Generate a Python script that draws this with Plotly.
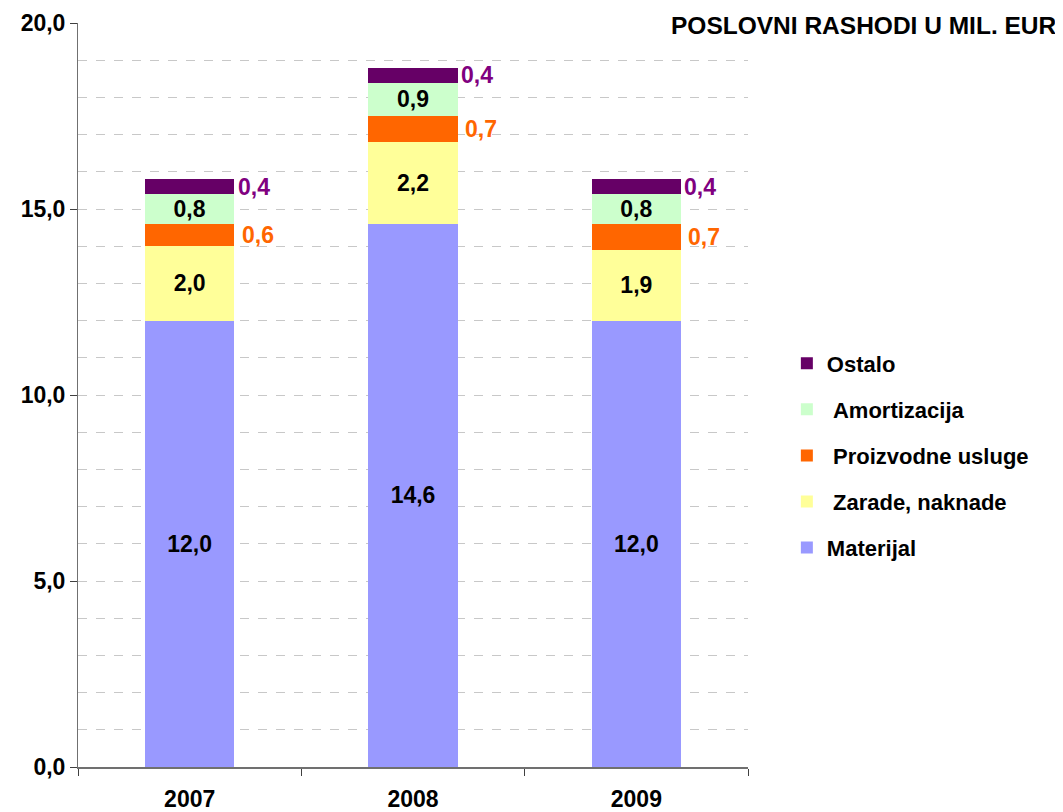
import plotly.graph_objects as go

years = ["2007", "2008", "2009"]
materijal = [12.0, 14.6, 12.0]
zarade = [2.0, 2.2, 1.9]
proizvodne = [0.6, 0.7, 0.7]
amortizacija = [0.8, 0.9, 0.8]
ostalo = [0.4, 0.4, 0.4]

series = [
    ("Materijal", materijal, "#9999FF", "inside"),
    ("\u00a0Zarade, naknade", zarade, "#FFFF99", "inside"),
    ("\u00a0Proizvodne usluge", proizvodne, "#FF6600", "none"),
    ("\u00a0Amortizacija", amortizacija, "#CCFFCC", "inside"),
    ("Ostalo", ostalo, "#660066", "none"),
]

FONT = "Liberation Sans, Arial, sans-serif"
LBL = 23
fig = go.Figure()
for i, (name, vals, color, tp) in enumerate(series):
    fig.add_trace(go.Bar(
        x=years, y=vals, name=name, marker=dict(color=color, line=dict(width=0)),
        texttemplate="<b>%{y:.1f}</b>" if tp == "inside" else None,
        textposition=tp, insidetextanchor="middle", constraintext="none",
        textfont=dict(family=FONT, size=LBL, color="black", weight="bold"),
        legendgroup=str(i), legendrank=len(series) - i, cliponaxis=False,
    ))

# outside labels to the right of bars
cum_z = [m + z for m, z in zip(materijal, zarade)]
cum_a = [m + z + p + a for m, z, p, a in zip(materijal, zarade, proizvodne, amortizacija)]
for vals, color, below, xs in [(proizvodne, "#FF6600", cum_z, 50), (ostalo, "#800080", cum_a, 46)]:
    for k, (v, b) in enumerate(zip(vals, below)):
        fig.add_annotation(x=k, y=b + v / 2, text=f"{v:.1f}".replace(".", ","),
                           showarrow=False, xanchor="left", yanchor="middle", xshift=xs,
                           font=dict(family=FONT, size=LBL, color=color, weight="bold"))

fig.add_annotation(xref="paper", yref="paper", x=(1059 - 78) / 670, y=1 + (23 - 26) / 744.3,
                   xanchor="right", yanchor="middle", showarrow=False,
                   text="POSLOVNI RASHODI U MIL. EUR",
                   font=dict(family=FONT, size=24.5, color="black", weight="bold"))

fig.update_layout(
    width=1055, height=804,
    margin=dict(l=70, r=315, t=15, b=45, autoexpand=False),
    barmode="stack", bargap=0.6,
    separators=", ",
    plot_bgcolor="white", paper_bgcolor="white",
    font=dict(family=FONT, size=21, color="black", weight="bold"),
    legend=dict(x=1.058, xanchor="left", y=(767 - 455.4) / 744, yanchor="middle",
                traceorder="grouped", tracegroupgap=14.5,
                font=dict(family=FONT, size=22, color="black", weight="bold"),
                bgcolor="rgba(0,0,0,0)"),
    showlegend=True,
)
fig.update_xaxes(type="category", range=[-0.5, 2.5], autorange=False, showline=True, linecolor="#707070",
                 linewidth=2, ticks="outside", automargin=False,
                 tickson="boundaries", ticklen=7, tickcolor="#404040", showgrid=False,
                 tickfont=dict(family=FONT, size=LBL, color="black", weight="bold"), ticklabelstandoff=10)
fig.update_yaxes(range=[0, 20], autorange=False, dtick=5, tickformat=".1f", showline=True, linecolor="#707070",
                 linewidth=1, ticks="outside", ticklen=7, tickcolor="#404040", automargin=False,
                 showgrid=True, gridcolor="#C8C8C8", griddash="dash", gridwidth=1, zeroline=False,
                 minor=dict(dtick=1, showgrid=True, gridcolor="#C8C8C8", griddash="dash", gridwidth=1),
                 tickfont=dict(family=FONT, size=LBL, color="black", weight="bold"))

fig.write_html("out.html")
